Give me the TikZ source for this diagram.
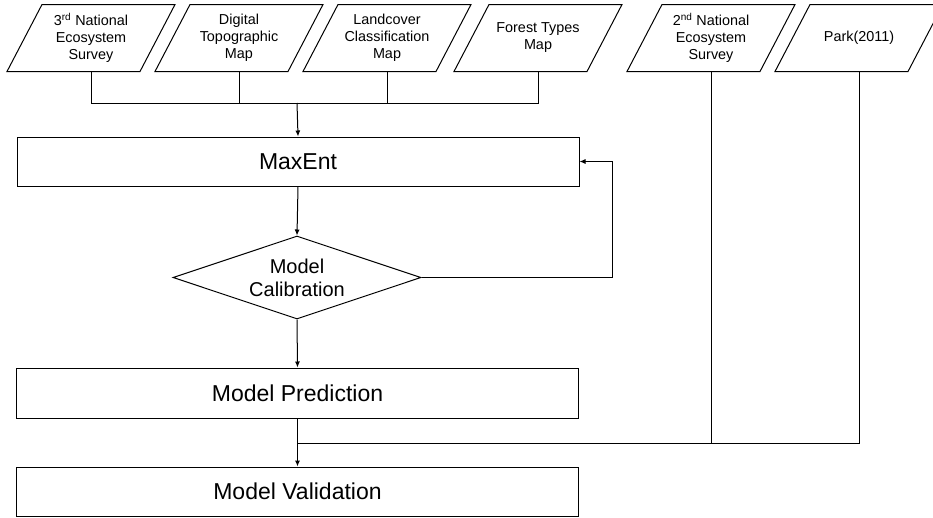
\documentclass[tikz,border=0pt]{standalone}
\usepackage{fontspec}
\setmainfont{Liberation Sans}
\usetikzlibrary{shapes.geometric,arrows.meta}

\begin{document}
\begin{tikzpicture}[x=1pt,y=-1pt,line width=1pt,
  data/.style={rectangle,minimum width=133pt,minimum height=66pt,inner sep=0pt,
    align=center,font=\fontsize{14.4}{17}\selectfont},
  box/.style={draw,rectangle,minimum width=562pt,minimum height=49pt,inner sep=0pt,
    font=\fontsize{23}{26}\selectfont},
  decide/.style={draw,diamond,aspect=3,minimum width=248pt,minimum height=83pt,inner sep=0pt,
    align=center,font=\fontsize{20}{23}\selectfont},
  arr/.style={-{Latex[length=6pt,width=5pt]}}]

  \useasboundingbox (0,0) rectangle (933,517);

  % inputs
  \node [data] (survey3) at (91,38) {3\textsuperscript{rd} National\\Ecosystem\\Survey};
  \node [data] (topo) at (239,38) {Digital\\Topographic\\Map};
  \node [data] (landcover) at (387,38) {Landcover\\Classification\\Map};
  \node [data] (forest) at (538,38) {Forest Types\\Map};
  \node [data] (survey2) at (711,38) {2\textsuperscript{nd} National\\Ecosystem\\Survey};
  \node [data] (park) at (859,38) {Park(2011)};

  \foreach \n in {survey3,topo,landcover,forest,survey2,park}
    \draw ([xshift=-84pt]\n.south) -- ([xshift=49pt]\n.south)
      -- ([xshift=84pt]\n.north) -- ([xshift=-49pt]\n.north) -- cycle;

  % process
  \node [box] (maxent) at (298,161.5) {MaxEnt};
  \node [decide] (calib) at (297,277.5) {Model\\Calibration};
  \node [box,minimum height=50pt] (predict) at (297.5,393) {Model Prediction};
  \node [box] (valid) at (297.5,491.5) {Model Validation};

  \coordinate (topjoin) at (297,103);
  \coordinate (botjoin) at (297,443);

  \draw (survey3.south) |- (forest.south |- topjoin) -- (forest.south);
  \draw (topo.south) -- (topo.south |- topjoin);
  \draw (landcover.south) -- (landcover.south |- topjoin);
  \draw [arr] (topjoin) -- (maxent.north);
  \draw [arr] (maxent.south) -- (calib.north);
  \draw [arr] (calib.east) -| ([xshift=33pt]maxent.east) -- (maxent.east);
  \draw [arr] (calib.south) -- (predict.north);
  \draw [arr] (predict.south) -- (valid.north);
  \draw (park.south) |- (botjoin);
  \draw (survey2.south) -- (survey2.south |- botjoin);

\end{tikzpicture}
\end{document}
